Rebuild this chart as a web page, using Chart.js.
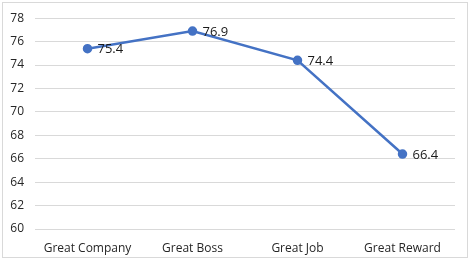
<!DOCTYPE html>
<html><head><meta charset="utf-8">
<script src="https://cdn.jsdelivr.net/npm/chart.js@4"></script>
<style>html,body{margin:0;padding:0;background:#fff}#w{width:472px;height:262px}</style>
</head><body><div id="w"><canvas id="c" width="472" height="262"></canvas></div>
<script>
const categories = ["Great Company", "Great Boss", "Great Job", "Great Reward"];
const values = [75.4, 76.9, 74.4, 66.4];
const yTicks = [60, 62, 64, 66, 68, 70, 72, 74, 76, 78];

const frame = {
  id: 'frame',
  beforeDraw(chart) {
    const ctx = chart.ctx;
    ctx.save();
    ctx.fillStyle = '#fff';
    ctx.fillRect(0, 0, chart.width, chart.height);
    ctx.strokeStyle = '#d9d9d9';
    ctx.lineWidth = 1;
    ctx.strokeRect(2.5, 2.5, 465, 255);
    ctx.restore();
  }
};
const labels = {
  id: 'labels',
  afterDatasetsDraw(chart) {
    const ctx = chart.ctx;
    const meta = chart.getDatasetMeta(0);
    ctx.save();
    ctx.font = '13px "Open Sans", sans-serif';
    ctx.fillStyle = '#1a1a1a';
    ctx.textAlign = 'left';
    ctx.textBaseline = 'middle';
    meta.data.forEach((p, i) => {
      ctx.fillText(values[i].toFixed(1), p.x + 10, p.y + 1);
    });
    ctx.restore();
  }
};

new Chart(document.getElementById('c'), {
  type: 'line',
  data: {
    labels: categories,
    datasets: [{
      data: values,
      borderColor: '#4472C4',
      backgroundColor: '#4472C4',
      borderWidth: 2.5,
      pointRadius: 3.5,
      pointHoverRadius: 3.5,
      tension: 0
    }]
  },
  options: {
    responsive: false,
    animation: false,
    layout: { padding: { top: 15, right: 17, bottom: 0, left: 0 } },
    plugins: { legend: { display: false }, tooltip: { enabled: false } },
    scales: {
      x: {
        offset: true,
        grid: { display: false },
        border: { display: false },
        ticks: { color: '#262626', font: { family: '"Open Sans", sans-serif', size: 12 }, padding: 4 },
        afterFit(s) { s.height = 33; }
      },
      y: {
        min: 60, max: 78,
        afterBuildTicks(s) { s.ticks = yTicks.map(v => ({ value: v })); },
        grid: { color: '#d9d9d9', drawTicks: false },
        border: { display: false },
        ticks: { color: '#262626', font: { family: '"Open Sans", sans-serif', size: 12 }, padding: 11 },
        afterFit(s) { s.width = 35; }
      }
    }
  },
  plugins: [frame, labels]
});
</script></body></html>
